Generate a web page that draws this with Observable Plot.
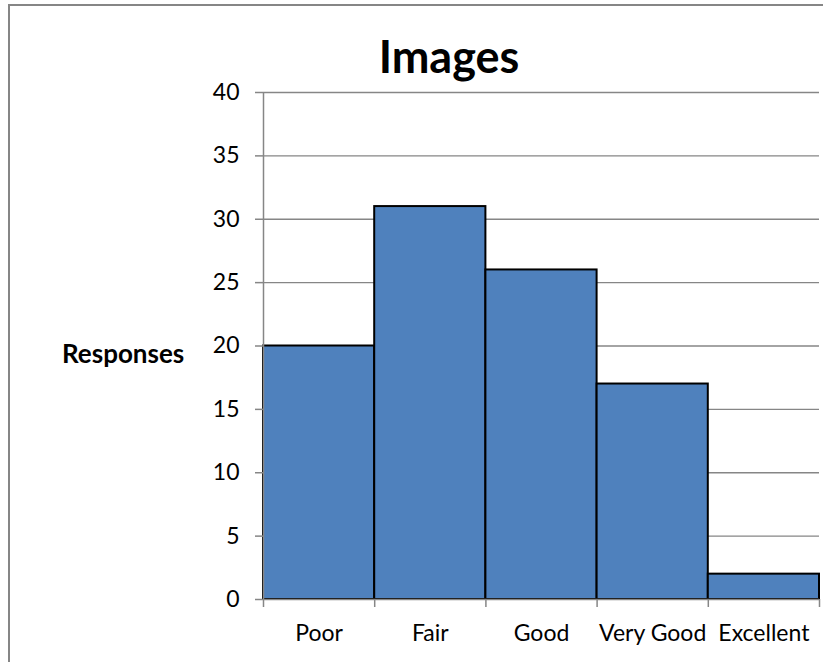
<!DOCTYPE html>
<html>
<head>
<meta charset="utf-8">
<script src="https://cdn.jsdelivr.net/npm/d3@7"></script>
<script src="https://cdn.jsdelivr.net/npm/@observablehq/plot@0.6"></script>
<style>
  html, body { margin: 0; padding: 0; background: #fff; overflow: hidden; }
  #wrap { position: relative; width: 823px; height: 662px; overflow: hidden; font-family: Lato, "Open Sans", sans-serif; }
  #border { position: absolute; left: 8px; top: 4px; width: 900px; height: 800px; border: 2px solid #868686; box-sizing: border-box; }
  #title { position: absolute; left: 0; width: 898px; top: 28px; text-align: center; font-weight: bold; font-size: 45px; line-height: 56px; color: #000; }
  #ylabel { position: absolute; left: 62px; top: 336px; font-weight: bold; font-size: 26px; line-height: 34px; color: #000; }
  #chart { position: absolute; left: 0; top: 0; }
</style>
</head>
<body>
<div id="wrap">
  <div id="border"></div>
  <div id="chart"></div>
  <div id="title">Images</div>
  <div id="ylabel">Responses</div>
</div>
<script>
const categories = ["Poor", "Fair", "Good", "Very Good", "Excellent"];
const responses = [20, 31, 26, 17, 2];
const yTicks = [0, 5, 10, 15, 20, 25, 30, 35, 40];

const data = categories.map((c, i) => ({category: c, index: i, value: responses[i]}));
const gridColor = "#868686";

const plot = Plot.plot({
  width: 823,
  height: 662,
  marginLeft: 263,
  marginRight: 4,
  marginTop: 92,
  marginBottom: 63,
  style: {fontFamily: "Lato, 'Open Sans', sans-serif", fontSize: "23px", background: "transparent", color: "#000"},
  x: {domain: [0, categories.length], axis: null},
  y: {domain: [0, 40], axis: null},
  marks: [
    Plot.ruleY(yTicks.filter(d => d > 0), {stroke: gridColor, strokeWidth: 1.3}),
    Plot.rectY(data, {x1: "index", x2: d => d.index + 1, y: "value", fill: "#4F81BD", stroke: "#000", strokeWidth: 2}),
    Plot.ruleX([0], {stroke: gridColor, strokeWidth: 1.5}),
    Plot.ruleY([0], {stroke: gridColor, strokeWidth: 1.5}),
    Plot.axisY({ticks: yTicks, tickSize: 8, tickPadding: 16, stroke: gridColor, strokeWidth: 1.5, fill: "#000", fontSize: 23, label: null}),
    Plot.axisX({ticks: d3.range(categories.length + 1), tickSize: 8, tickFormat: () => "", stroke: gridColor, strokeWidth: 1.5, label: null}),
    Plot.axisX({ticks: data.map(d => d.index + 0.5), tickSize: 0, tickPadding: 25, tickFormat: v => categories[Math.floor(v)], fill: "#000", fontSize: 23, label: null})
  ]
});
document.getElementById("chart").appendChild(plot);
</script>
</body>
</html>
